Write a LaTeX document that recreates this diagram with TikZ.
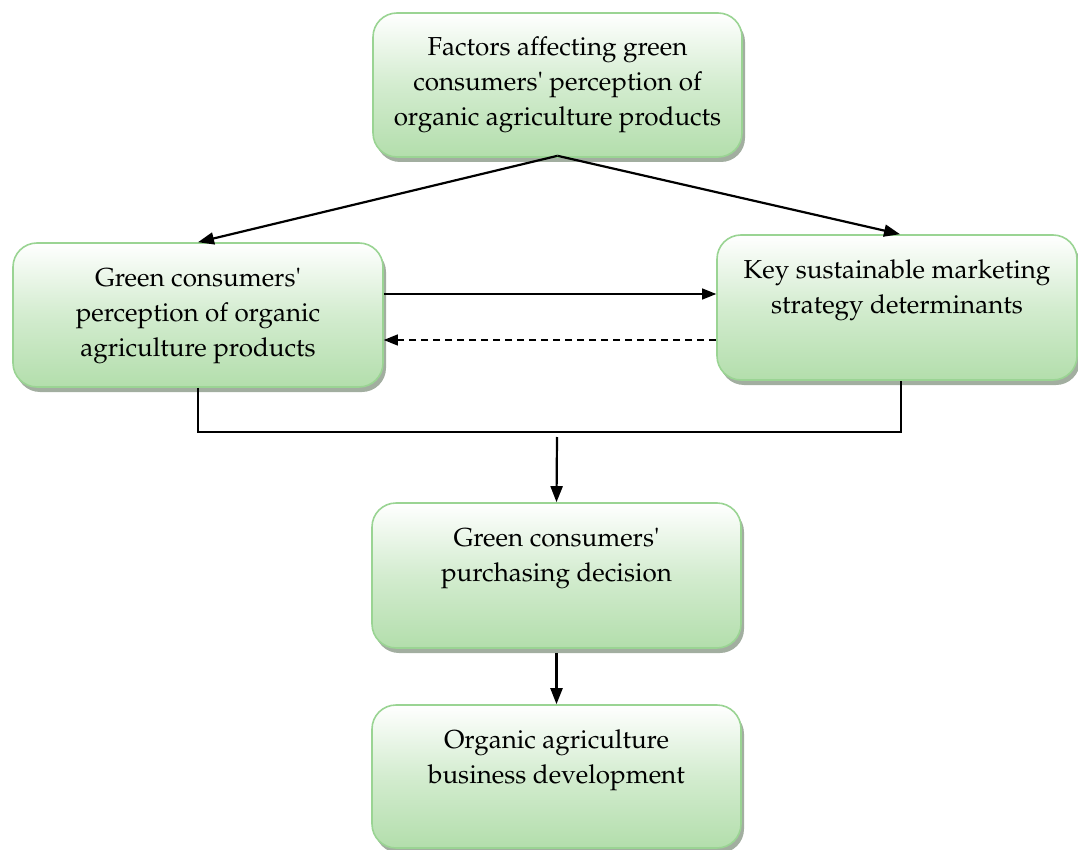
\documentclass[tikz,border=0pt]{standalone}
\usepackage[T1]{fontenc}
\usepackage{mathpazo}
\usepackage{textcomp}
\usetikzlibrary{arrows.meta,shadows,calc}
\definecolor{boxborder}{HTML}{9AD493}
\definecolor{boxgreen}{HTML}{B3DEAC}
\definecolor{boxmid}{HTML}{D3ECCF}
\definecolor{shadowc}{HTML}{98A596}
\newcommand{\bxtext}[3]{\parbox[c][#2][t]{#1}{\centering\fontsize{26}{35}\selectfont\rule{0pt}{43pt}#3}}
\begin{document}
\begin{tikzpicture}[x=1pt,y=-1pt,
  greenbox/.style={draw=boxborder, line width=1.6pt, rounded corners=24pt,
    top color=white, bottom color=boxgreen, middle color=boxmid, inner sep=0pt,
    drop shadow={shadow xshift=3pt, shadow yshift=-5pt, fill=shadowc, opacity=0.9}},
  bigarrow/.style={-{Triangle[length=16pt,width=12pt]}, line width=2.2pt},
  thinarrow/.style={-{Triangle[length=14pt,width=11pt]}, line width=1.2pt},
  bracket/.style={line width=2pt}]
\useasboundingbox (0,0) rectangle (1078,850);
\node[greenbox] (A) at (557.5,85) {\bxtext{369pt}{144pt}{Factors affecting green\\consumers\textquotesingle{} perception of\\organic agriculture products}};
\node[greenbox] (B) at (198,315) {\bxtext{370pt}{144pt}{Green consumers\textquotesingle\\perception of organic\\agriculture products}};
\node[greenbox] (C) at (897,307.5) {\bxtext{360pt}{145pt}{Key sustainable marketing\\strategy determinants}};
\node[greenbox] (D) at (556.5,575.5) {\bxtext{369pt}{145pt}{Green consumers\textquotesingle\\purchasing decision}};
\node[greenbox] (E) at (556.5,776.5) {\bxtext{369pt}{143pt}{Organic agriculture\\business development}};
\coordinate (h1) at (0,294);
\coordinate (h2) at (0,340);
\coordinate (j) at (557,432);
\coordinate (js) at (557,437);
\draw[bigarrow] ([yshift=2pt]A.south) -- (B.north);
\draw[bigarrow] ([yshift=2pt]A.south) -- ([xshift=3pt]C.north);
\draw[thinarrow] (B.east |- h1) -- (C.west |- h1);
\draw[thinarrow, dash pattern=on 7pt off 5pt] (C.west |- h2) -- (B.east |- h2);
\draw[bracket] (B.south) |- (j) -| ([xshift=4pt]C.south);
\draw[bigarrow] (js) -- (D.north);
\draw[bigarrow] ([yshift=-4pt]D.south) -- (E.north);
\end{tikzpicture}
\end{document}
